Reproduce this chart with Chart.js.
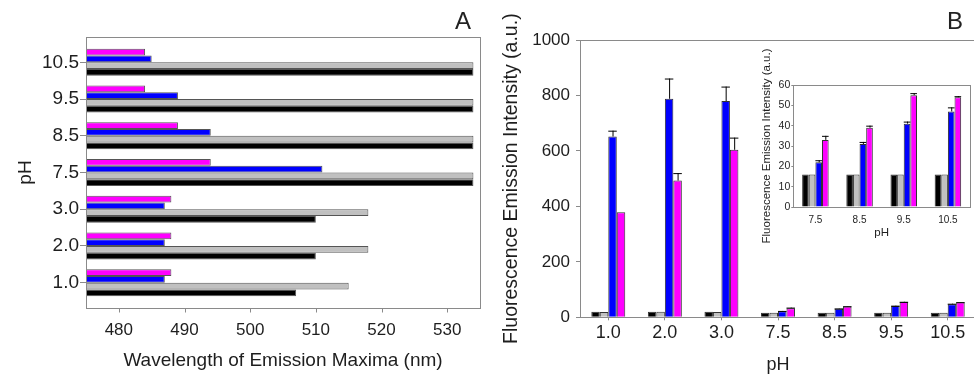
<!DOCTYPE html>
<html>
<head>
<meta charset="utf-8">
<script src="https://cdn.jsdelivr.net/npm/chart.js@4.4.0/dist/chart.umd.min.js"></script>
<style>
  html, body { margin: 0; padding: 0; background: #fff; overflow: hidden; }
  body { width: 974px; height: 382px; position: relative; font-family: "Liberation Sans", Arial, sans-serif; }
  .box { position: absolute; }
  .panel-label { position: absolute; font-size: 24px; color: #222; line-height: 1; }
</style>
</head>
<body>
<div class="box" style="left:0;top:0;width:490px;height:382px"><canvas id="chartA"></canvas></div>
<div class="box" style="left:486px;top:0;width:490px;height:382px"><canvas id="chartB"></canvas></div>
<div class="box" style="left:750px;top:40px;width:224px;height:210px"><canvas id="inset"></canvas></div>
<div class="panel-label" style="left:455px;top:9px">A</div>
<div class="panel-label" style="left:947px;top:9px">B</div>
<script>
const phLabels = ['1.0', '2.0', '3.0', '7.5', '8.5', '9.5', '10.5'];

// panel A - wavelength of emission maxima (nm)
const emMagenta = [488, 488, 488, 494, 489, 484, 484];
const emBlue = [487, 487, 487, 511, 494, 489, 485];
const emGray = [515, 518, 518, 534, 534, 534, 534];
const emBlack = [507, 510, 510, 534, 534, 534, 534];
const wavelengthTicks = [480, 490, 500, 510, 520, 530];

// panel B - fluorescence intensity (a.u.) and upper error
const intBlack = [20, 20, 20, 16, 16, 16, 16];
const intGray = [19, 20, 19, 16, 16, 16, 16];
const intBlue = [652, 788, 780, 22, 31, 41, 47];
const intMagenta = [379, 493, 604, 33, 39, 55, 54];
const errBlue = [21, 73, 52, 1, 1, 1, 2];
const errMagenta = [0, 27, 44, 2, 1, 1, 0.5];
const intensityTicks = [0, 200, 400, 600, 800, 1000];

// inset - only the basic pH values
const insetLabels = phLabels.slice(3);
const insetTicks = [0, 10, 20, 30, 40, 50, 60];

const MAGENTA = '#ff00ff', BLUE = '#0000ff', GRAY = '#c0c0c0', BLACK = '#000000';
const AXIS = '#8a8a8a';
const TEXT = '#1e1e1e';

Chart.defaults.font.family = '"Liberation Sans", Arial, sans-serif';
Chart.defaults.color = TEXT;

function fixTicks(list) {
  return scale => { scale.ticks = list.map(v => ({ value: v })); };
}
const plain = v => String(v);

// vertical error bar (upper half only) with a cap
const errorBars = {
  id: 'errorBars',
  afterDatasetsDraw(chart) {
    const ctx = chart.ctx;
    const yScale = chart.scales.y;
    ctx.save();
    ctx.strokeStyle = '#000';
    ctx.lineWidth = 1;
    chart.data.datasets.forEach((ds, di) => {
      if (!ds.errors) return;
      const meta = chart.getDatasetMeta(di);
      meta.data.forEach((bar, i) => {
        const err = ds.errors[i];
        if (!err) return;
        const top = yScale.getPixelForValue(ds.data[i] + err);
        const half = bar.width / 2;
        ctx.beginPath();
        ctx.moveTo(bar.x + 0.5, bar.y);
        ctx.lineTo(bar.x + 0.5, top);
        ctx.moveTo(bar.x - half, top + 0.5);
        ctx.lineTo(bar.x + half, top + 0.5);
        ctx.stroke();
      });
    });
    ctx.restore();
  }
};

// frame around panel A, a bit taller than the category area,
// with the x tick marks hanging under its bottom edge
const frameA = {
  id: 'frameA',
  afterDatasetsDraw(chart) {
    const { ctx, chartArea: a } = chart;
    const top = Math.round(a.top - 7) + 0.5;
    const bottom = Math.round(a.bottom + 7) + 0.5;
    ctx.save();
    ctx.strokeStyle = AXIS;
    ctx.lineWidth = 1;
    ctx.strokeRect(Math.round(a.left) + 0.5, top, Math.round(a.right - a.left), bottom - top);
    ctx.beginPath();
    chart.scales.x.ticks.forEach(t => {
      const x = Math.round(chart.scales.x.getPixelForValue(t.value)) + 0.5;
      ctx.moveTo(x, bottom);
      ctx.lineTo(x, bottom + 4);
    });
    ctx.stroke();
    ctx.restore();
  }
};

const topLine = {
  id: 'topLine',
  afterDatasetsDraw(chart) {
    const { ctx, chartArea: a } = chart;
    ctx.save();
    ctx.strokeStyle = AXIS;
    ctx.lineWidth = 1;
    ctx.beginPath();
    ctx.moveTo(a.left, Math.round(a.top) + 0.5);
    ctx.lineTo(a.right, Math.round(a.top) + 0.5);
    ctx.stroke();
    ctx.restore();
  }
};

const boxInset = {
  id: 'boxInset',
  afterDatasetsDraw(chart) {
    const { ctx, chartArea: a } = chart;
    ctx.save();
    ctx.strokeStyle = AXIS;
    ctx.lineWidth = 1;
    ctx.strokeRect(Math.round(a.left) + 0.5, Math.round(a.top) + 0.5,
      Math.round(a.right - a.left), Math.round(a.bottom - a.top));
    ctx.restore();
  }
};

// ---- panel A ----
new Chart(document.getElementById('chartA'), {
  type: 'bar',
  data: {
    labels: phLabels,
    datasets: [
      { data: emMagenta, backgroundColor: MAGENTA },
      { data: emBlue, backgroundColor: BLUE },
      { data: emGray, backgroundColor: GRAY },
      { data: emBlack, backgroundColor: BLACK }
    ]
  },
  options: {
    indexAxis: 'y',
    responsive: true,
    maintainAspectRatio: false,
    animation: false,
    layout: { padding: { top: 44, right: 10, left: 0, bottom: 0 } },
    datasets: {
      bar: { base: 475, borderColor: '#555', borderWidth: 1, categoryPercentage: 0.736, barPercentage: 1 }
    },
    plugins: { legend: { display: false }, tooltip: { enabled: false } },
    scales: {
      x: {
        min: 475,
        max: 535,
        afterBuildTicks: fixTicks(wavelengthTicks),
        afterFit: s => { s.height = 81; },
        grid: { display: false, drawTicks: false },
        border: { display: false },
        ticks: { padding: 19, font: { size: 17 }, callback: plain },
        title: { display: true, text: 'Wavelength of Emission Maxima (nm)', font: { size: 19 }, padding: { top: 0, bottom: 10 } }
      },
      y: {
        reverse: true,
        afterFit: s => { s.width = 86; },
        grid: { display: true, offset: false, drawOnChartArea: false, drawTicks: true, tickLength: 6, color: AXIS },
        border: { display: false },
        ticks: { padding: 1, font: { size: 19 } },
        title: { display: true, text: 'pH', font: { size: 19 }, padding: { top: 14, bottom: 0 } }
      }
    }
  },
  plugins: [frameA]
});

// ---- panel B ----
new Chart(document.getElementById('chartB'), {
  type: 'bar',
  data: {
    labels: phLabels,
    datasets: [
      { data: intBlack, backgroundColor: BLACK },
      { data: intGray, backgroundColor: GRAY },
      { data: intBlue, backgroundColor: BLUE, errors: errBlue },
      { data: intMagenta, backgroundColor: MAGENTA, errors: errMagenta }
    ]
  },
  options: {
    responsive: true,
    maintainAspectRatio: false,
    animation: false,
    layout: { padding: { top: 40, right: 0, left: 0, bottom: 0 } },
    datasets: {
      bar: { borderColor: '#333', borderWidth: 1, categoryPercentage: 0.6, barPercentage: 1 }
    },
    plugins: { legend: { display: false }, tooltip: { enabled: false } },
    scales: {
      x: {
        afterFit: s => { s.height = 64.7; },
        grid: { display: true, offset: false, drawOnChartArea: false, drawTicks: true, tickLength: 3, color: AXIS },
        border: { display: true, color: AXIS },
        ticks: { padding: 2, font: { size: 18 } },
        title: { display: true, text: 'pH', font: { size: 18 }, padding: { top: 0, bottom: 6 } }
      },
      y: {
        min: 0,
        max: 1000,
        afterBuildTicks: fixTicks(intensityTicks),
        afterFit: s => { s.width = 94; },
        grid: { display: true, drawOnChartArea: false, drawTicks: true, tickLength: 4, color: AXIS },
        border: { display: true, color: AXIS },
        ticks: { padding: 6, font: { size: 17 }, callback: plain },
        title: { display: true, text: 'Fluorescence Emission Intensity (a.u.)', font: { size: 19.5 }, padding: { top: 14, bottom: 0 } }
      }
    }
  },
  plugins: [errorBars, topLine]
});

// ---- inset ----
new Chart(document.getElementById('inset'), {
  type: 'bar',
  data: {
    labels: insetLabels,
    datasets: [
      { data: intBlack.slice(3), backgroundColor: BLACK },
      { data: intGray.slice(3), backgroundColor: GRAY },
      { data: intBlue.slice(3), backgroundColor: BLUE, errors: errBlue.slice(3) },
      { data: intMagenta.slice(3), backgroundColor: MAGENTA, errors: errMagenta.slice(3) }
    ]
  },
  options: {
    responsive: true,
    maintainAspectRatio: false,
    animation: false,
    layout: { padding: { top: 45, right: 4, left: 0, bottom: 0 } },
    datasets: {
      bar: { borderColor: '#333', borderWidth: 1, categoryPercentage: 0.6, barPercentage: 1 }
    },
    plugins: { legend: { display: false }, tooltip: { enabled: false } },
    scales: {
      x: {
        afterFit: s => { s.height = 43; },
        grid: { display: false, drawTicks: false },
        border: { display: false },
        ticks: { padding: 7, font: { size: 10 } },
        title: { display: true, text: 'pH', font: { size: 11.5 }, padding: { top: 0, bottom: 10 } }
      },
      y: {
        min: 0,
        max: 60,
        afterBuildTicks: fixTicks(insetTicks),
        afterFit: s => { s.width = 43.3; },
        grid: { display: true, drawOnChartArea: false, drawTicks: true, tickLength: 2, color: AXIS },
        border: { display: false },
        ticks: { padding: 1, font: { size: 10.5 }, callback: plain },
        title: { display: true, text: 'Fluorescence Emission Intensity (a.u.)', font: { size: 11.5 }, padding: { top: 10, bottom: 0 } }
      }
    }
  },
  plugins: [errorBars, boxInset]
});
</script>
</body>
</html>
